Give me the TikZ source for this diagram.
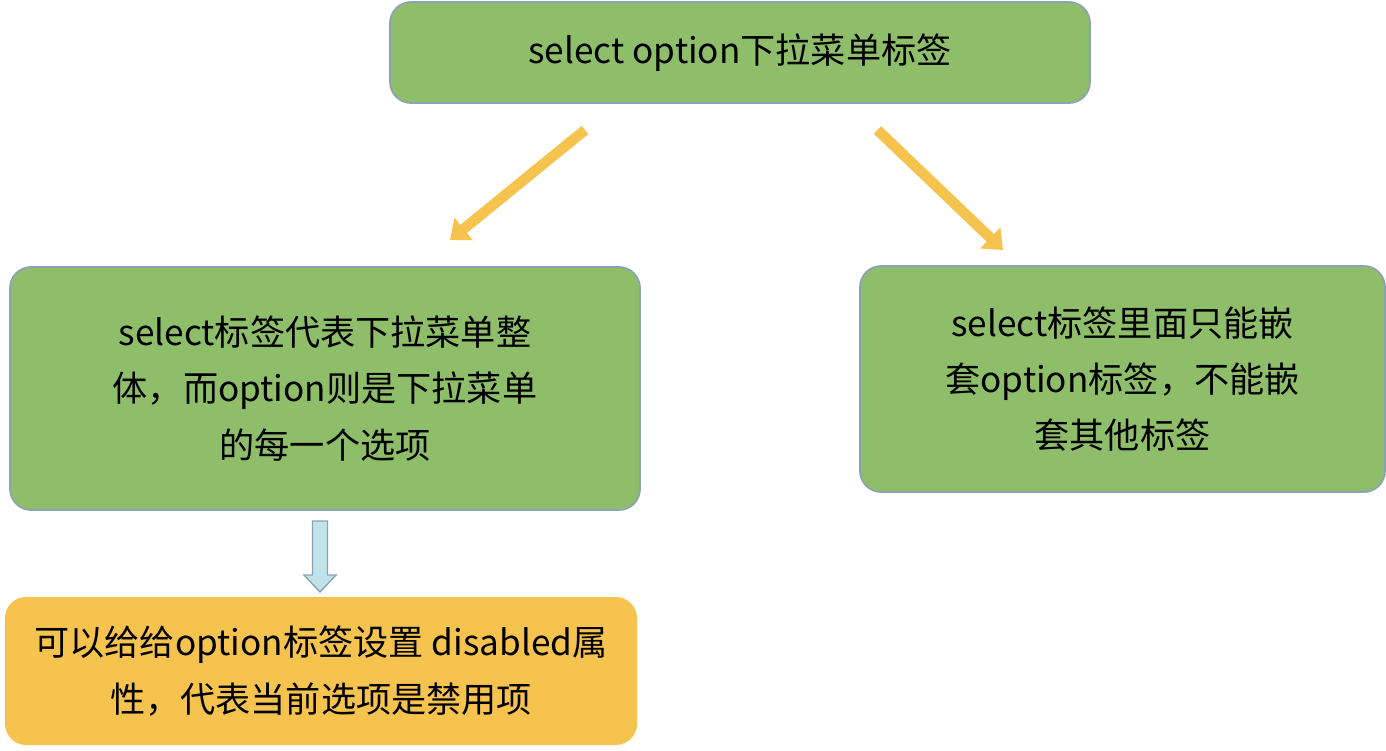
\documentclass[tikz,border=0pt]{standalone}
\usepackage{fontspec}
\setmainfont{Noto Sans CJK SC}
\usetikzlibrary{arrows.meta}
\definecolor{boxgreen}{HTML}{8FBE6A}
\definecolor{boxedge}{HTML}{8CA2B4}
\definecolor{boxorange}{HTML}{F7C34F}
\definecolor{arrowblue}{HTML}{BFE3E8}
\tikzset{
    greenbox/.style={draw=boxedge, line width=1pt, fill=boxgreen, rounded corners=12pt, align=center,
        font=\fontsize{20}{32}\selectfont, inner sep=0pt},
    orangebox/.style={fill=boxorange, rounded corners=12pt, align=center,
        font=\fontsize{20}{32}\selectfont, inner sep=0pt},
    yellowarrow/.style={draw=boxorange, line width=6pt, -{Triangle[length=10pt,width=16pt]}},
}
\begin{document}
\begin{tikzpicture}
    \useasboundingbox (0,0) rectangle (27.72,-15);

    \node[greenbox, minimum width=14cm, minimum height=2.02cm] (top) at (14.8,-1.05) {select option下拉菜单标签};
    \node[greenbox, minimum width=12.6cm, minimum height=4.86cm] (left) at (6.5,-7.77)
        {select标签代表下拉菜单整\\体，而option则是下拉菜单\\的每一个选项};
    \node[greenbox, minimum width=10.5cm, minimum height=4.52cm] (right) at (22.45,-7.58)
        {select标签里面只能嵌\\套option标签，不能嵌\\套其他标签};
    \node[orangebox, minimum width=12.64cm, minimum height=2.96cm] (bottom) at (6.42,-13.42)
        {可以给给option标签设置 disabled属\\性，代表当前选项是禁用项};

    \coordinate (la) at (11.7,-2.6);
    \coordinate (lb) at (9.0,-4.8);
    \coordinate (ra) at (17.55,-2.6);
    \coordinate (rb) at (20.06,-5.0);
    \draw[yellowarrow] (la) -- (lb);
    \draw[yellowarrow] (ra) -- (rb);

    % block arrow down
    \draw[draw=boxedge, fill=arrowblue, line width=0.8pt]
        (6.25,-10.42) -- (6.55,-10.42) -- (6.55,-11.5) -- (6.72,-11.5) -- (6.4,-11.84)
        -- (6.08,-11.5) -- (6.25,-11.5) -- cycle;
\end{tikzpicture}
\end{document}
